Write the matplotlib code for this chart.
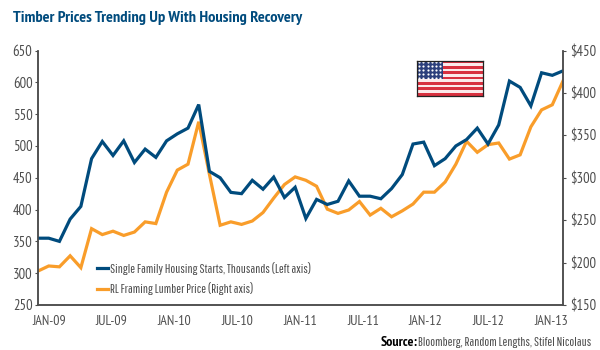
import numpy as np
import matplotlib
matplotlib.use("Agg")
import matplotlib.pyplot as plt
from matplotlib.patches import Rectangle

# valores, enero 2009 a febrero 2013 aprox.
housing_starts = [355, 355, 350, 385, 405, 480, 507, 485, 508, 474, 495, 482, 508, 519, 528, 565, 460,
                  450, 427, 425, 446, 432, 451, 419, 435, 386, 416, 408, 413, 445, 421, 421, 417, 433,
                  455, 503, 506, 469, 480, 500, 510, 528, 503, 533, 602, 592, 563, 615, 611, 618]
lumber_price = [190, 196, 195, 208, 194, 240, 233, 237, 232, 236, 248, 246, 283, 309, 316, 366, 304,
                244, 248, 245, 249, 259, 276, 292, 301, 297, 290, 263, 258, 262, 272, 256, 264, 254,
                261, 269, 283, 283, 295, 316, 343, 330, 339, 341, 322, 327, 360, 380, 386, 414]
fechas = ["JAN-09", "JUL-09", "JAN-10", "JUL-10", "JAN-11", "JUL-11", "JAN-12", "JUL-12", "JAN-13"]
ticks_izq = [250, 300, 350, 400, 450, 500, 550, 600, 650]
ticks_der = [150, 200, 250, 300, 350, 400, 450]

AZUL = "#004b7d"
NARANJA = "#f99d2a"
GRIS = "#4d4d4d"

plt.rcParams["font.family"] = ["PT Sans Narrow", "Liberation Sans", "DejaVu Sans"]
ANGOSTA = ["Pathway Gothic One", "PT Sans Narrow", "Liberation Sans", "DejaVu Sans"]

W, H = 600, 350
fig = plt.figure(figsize=(W / 100, H / 100), dpi=100)
ax = fig.add_axes([38 / W, 1 - 305 / H, 525 / W, 254.5 / H])
ax2 = ax.twinx()

x = np.arange(len(housing_starts))
linea1, = ax.plot(x, housing_starts, color=AZUL, lw=2.3, solid_joinstyle="miter")
linea2, = ax2.plot(x, lumber_price, color=NARANJA, lw=2.3, solid_joinstyle="miter")
ax.set_zorder(ax2.get_zorder() + 1)
ax.patch.set_visible(False)

ax.set_xlim(0, 49)
ax.set_ylim(250, 650)
ax2.set_ylim(150, 450)
ax.set_yticks(ticks_izq)
ax2.set_yticks(ticks_der)
ax2.set_yticklabels(["$%d" % v for v in ticks_der])

# las etiquetas del eje x no caen sobre los puntos del original
ax.set_xticks(1.03 + 5.86 * np.arange(len(fechas)))
ax.set_xticklabels(fechas)
ax.tick_params(axis="x", length=0, pad=7, labelsize=10, colors=GRIS)
ax.tick_params(axis="y", direction="out", length=2, width=0.8, pad=2, labelsize=10.5, labelcolor=GRIS, color=GRIS)
ax2.tick_params(axis="y", direction="out", length=2, width=0.8, pad=3, labelsize=10.5, labelcolor=GRIS, color=GRIS)

for a in (ax, ax2):
    a.spines["top"].set_visible(False)
    for lado in ("left", "right", "bottom"):
        a.spines[lado].set_color(GRIS)
        a.spines[lado].set_linewidth(1.1)

fig.text(13 / W, 1 - 18 / H, "Timber Prices Trending Up With Housing Recovery", color=AZUL,
         fontsize=11.8, fontweight="bold", va="center")

leyenda = ax.legend([linea1, linea2],
                    ["Single Family Housing Starts, Thousands (Left axis)", "RL Framing Lumber Price (Right axis)"],
                    loc="lower left", bbox_to_anchor=(52.5 / 525, 0.012), frameon=False, labelcolor=GRIS,
                    fontsize=9.3, handlelength=0.85, handletextpad=0.15,
                    labelspacing=0.6, borderpad=0.5, borderaxespad=0)
for t in leyenda.get_texts():
    t.set_family(ANGOSTA)

fig.text(418 / W, 1 - 342 / H, "Bloomberg, Random Lengths, Stifel Nicolaus", color=GRIS,
         fontsize=9.3, family=ANGOSTA, ha="left", va="center")
fig.text(381 / W, 1 - 342 / H, "Source:", color="black", fontsize=10, fontweight="bold",
         ha="left", va="center")

# bandera
flag = fig.add_axes([416.5 / W, 1 - 95.5 / H, 66 / W, 35 / H])
flag.set_xlim(0, 1)
flag.set_ylim(0, 13)
for i in range(13):
    flag.add_patch(Rectangle((0, i), 1, 1, color="#d8303f" if i % 2 == 0 else "#fbe9ea", lw=0))
flag.add_patch(Rectangle((0, 6), 0.4, 7, color="#2c3f7c", lw=0))
sx, sy = np.meshgrid(np.linspace(0.04, 0.36, 6), np.linspace(6.6, 12.4, 5))
flag.scatter(sx.ravel(), sy.ravel(), s=2.5, color="white", lw=0)
flag.set_xticks([])
flag.set_yticks([])
for s in flag.spines.values():
    s.set_color("#222222")
    s.set_linewidth(0.9)

fig.savefig("out.png", dpi=100)
